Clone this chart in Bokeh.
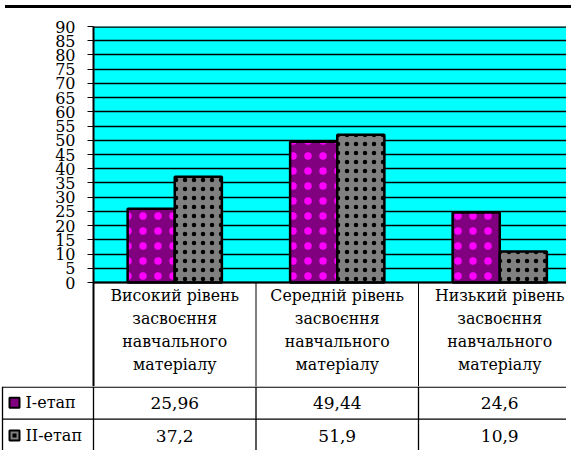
from bokeh.plotting import figure
from bokeh.models import Range1d, FixedTicker, Span, ColumnDataSource, Div
from bokeh.layouts import column
from bokeh.core.properties import value
from bokeh.embed import file_html
from bokeh.resources import INLINE

# ---- data ----
categories = ["Високий рівень\nзасвоєння\nнавчального\nматеріалу",
              "Середній рівень\nзасвоєння\nнавчального\nматеріалу",
              "Низький рівень\nзасвоєння\nнавчального\nматеріалу"]
series_names = ["I-етап", "II-етап"]
stage1 = [25.96, 49.44, 24.6]
stage2 = [37.2, 51.9, 10.9]
y_ticks = list(range(0, 95, 5))

# ---- layout constants (pixels, page-relative inside the 8px margin) ----
W = 566
BAR_H = 3
FRAME_LEFT = 93
Y90_PX = 16
Y0_PX = 272
HEADER_BOTTOM_PX = 376
TOTAL_H = 440
CAT_PX = 162.5
ROW_PX = 32.7
PPU = (Y0_PX - Y90_PX) / 90.0
n = len(categories)
FONT = "DejaVu Serif"
FONT_C = "DejaVu Serif Condensed"

def dx(px):
    return (px - FRAME_LEFT) / CAT_PX

def dy(py):
    return (Y0_PX - py) / PPU

x_start, x_end = dx(0), dx(W)

bar = Div(text="", width=W, height=BAR_H, styles={"background-color": "black"})

CH = HEADER_BOTTOM_PX - BAR_H
p = figure(width=W, height=CH, output_backend="svg", toolbar_location=None,
           x_range=Range1d(0, x_end), y_range=Range1d(dy(HEADER_BOTTOM_PX), 90),
           min_border_left=FRAME_LEFT, min_border_top=Y90_PX - BAR_H,
           min_border_right=0, min_border_bottom=0, x_axis_location=None)
p.frame_align = False
p.outline_line_color = None
p.background_fill_color = "white"
p.border_fill_color = "white"

p.quad(left=[0], right=[n], bottom=[0], top=[90], fill_color="#00FFFF",
       line_color=None, level="image")

p.xgrid.visible = False
p.ygrid.ticker = FixedTicker(ticks=y_ticks)
p.ygrid.grid_line_color = "black"
p.ygrid.grid_line_width = 1.3

p.yaxis.ticker = FixedTicker(ticks=y_ticks)
p.yaxis.axis_line_color = "black"
p.yaxis.axis_line_width = 2
p.yaxis.major_tick_in = 0
p.yaxis.major_tick_out = 6
p.yaxis.major_tick_line_color = "black"
p.yaxis.minor_tick_line_color = None
p.yaxis.major_label_text_font = FONT
p.yaxis.major_label_text_font_size = "16px"
p.yaxis.major_label_text_color = "black"
p.yaxis.major_label_standoff = 12

dodge = 0.145
bw = 0.29
src = ColumnDataSource(dict(
    x1=[i + 0.5 - dodge for i in range(n)],
    x2=[i + 0.5 + dodge for i in range(n)],
    s1=stage1, s2=stage2))
p.vbar(x="x1", top="s1", bottom=0, width=bw, source=src,
       fill_color="#800080", line_color="black", line_width=2.5,
       hatch_pattern="dot", hatch_color="#FF00FF", hatch_scale=15, hatch_weight=0.6)
p.vbar(x="x2", top="s2", bottom=0, width=bw, source=src,
       fill_color="#808080", line_color="black", line_width=2.5,
       hatch_pattern="dot", hatch_color="black", hatch_scale=9, hatch_weight=4.5)

p.add_layout(Span(location=90, dimension="width", line_color="black", line_width=2.5))
p.add_layout(Span(location=0, dimension="width", line_color="black", line_width=2))

p.segment(x0=list(range(1, n)), x1=list(range(1, n)), y0=[0] * (n - 1),
          y1=[dy(HEADER_BOTTOM_PX)] * (n - 1), line_color="black", line_width=1)

p.text(x=[i + 0.5 for i in range(n)], y=[dy(319)] * n, text=categories,
       text_font=value(FONT_C), text_font_size="17.5px", text_align="center",
       text_baseline="middle", text_line_height=1.15, text_color="black")

TH = TOTAL_H - HEADER_BOTTOM_PX
rows_visible = TH / ROW_PX
t = figure(width=W, height=TH, output_backend="svg", toolbar_location=None,
           x_range=Range1d(x_start, x_end), y_range=Range1d(-rows_visible, 0),
           min_border_left=0, min_border_top=0, min_border_right=0, min_border_bottom=0,
           x_axis_location=None, y_axis_location=None)
t.frame_align = False
t.outline_line_color = None
t.xgrid.visible = False
t.ygrid.visible = False
t.background_fill_color = "white"
t.border_fill_color = "white"

leg_left = dx(2)
edge = 0.7 / ROW_PX
t.segment(x0=[leg_left, leg_left], x1=[x_end, x_end], y0=[-edge, -1], y1=[-edge, -1],
          line_color="black", line_width=1.3)
t.segment(x0=[leg_left] + list(range(0, n)), x1=[leg_left] + list(range(0, n)),
          y0=[0] * (n + 1), y1=[-rows_visible] * (n + 1), line_color="black", line_width=1.3)

fmt = lambda v: str(v).replace(".", ",")
for r, vals in enumerate((stage1, stage2)):
    yc = -(r + 0.5)
    t.text(x=[i + 0.5 for i in range(n)], y=[yc] * n, text=[fmt(v) for v in vals],
           text_font=value(FONT), text_font_size="17px", text_align="center",
           text_baseline="middle", text_color="black")

key_x = dx(14)
t.rect(x=[key_x], y=[-0.5], width=10, height=10, width_units="screen", height_units="screen",
       fill_color="#800080", line_color="black", line_width=2)
t.rect(x=[key_x], y=[-1.5], width=10, height=10, width_units="screen", height_units="screen",
       fill_color="#808080", line_color="black", line_width=2)
t.rect(x=[key_x], y=[-1.5], width=4, height=4, width_units="screen", height_units="screen",
       fill_color="black", line_color=None)
t.text(x=[dx(25)] * 2, y=[-0.5, -1.5], text=series_names,
       text_font=value(FONT), text_font_size="16px", text_align="left",
       text_baseline="middle", text_color="black")

layout = column(bar, p, t, spacing=0)
open("out.html", "w").write(file_html(layout, INLINE))
